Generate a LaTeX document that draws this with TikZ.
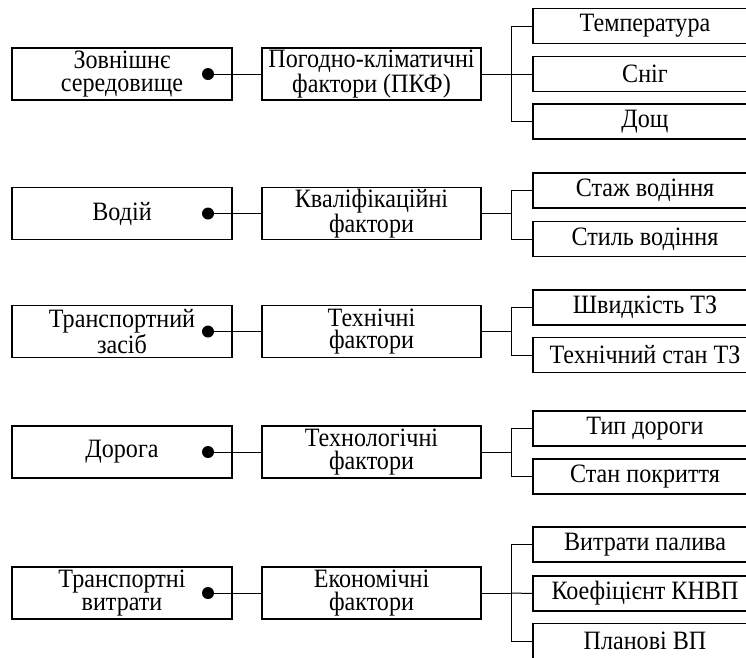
\documentclass[tikz,border=0pt]{standalone}
\usepackage{fontspec}
\setmainfont{Liberation Serif}[FakeStretch=0.91]
\begin{document}
\begin{tikzpicture}[x=1pt,y=-1pt,
  box/.style={draw,line width=1.4pt,rectangle,inner sep=0pt,align=center,
     font=\fontsize{26.5}{22.5}\selectfont},
  leftbox/.style={box,minimum width=220pt,minimum height=52pt},
  midbox/.style={box,minimum width=219pt,minimum height=52pt},
  leafbox/.style={box,minimum width=224pt,minimum height=35pt},
  conn/.style={line width=1pt},
  dotmark/.style={fill,circle,inner sep=0pt,minimum size=12pt}]
\useasboundingbox (0,0) rectangle (746,657);
\clip (0,0) rectangle (746,657);
\fill[white] (0,0) rectangle (746,657);

% Row 1
\node[leftbox] (l1) at (122,74) {Зовнішнє\\середовище};
\node[midbox] (m1) at (371.5,74) {Погодно-кліматичні\\фактори (ПКФ)};
\node[leafbox] (r11) at (645,26) {Температура};
\node[leafbox] (r12) at (645,74) {Сніг};
\node[leafbox] (r13) at (645,121.5) {Дощ};
\node[dotmark] (d1) at (208,74) {};
\coordinate (j1) at (511.5,74);
\draw[conn] (d1) -- (m1.west);
\draw[conn] (m1.east) -- (j1);
\draw[conn] (j1) |- (r11.west);
\draw[conn] (j1) -- (r12.west);
\draw[conn] (j1) |- (r13.west);

% Row 2
\node[leftbox] (l2) at (122,213.5) {Водій};
\node[midbox] (m2) at (371.5,213.5) {Кваліфікаційні\\фактори};
\node[leafbox] (r21) at (645,190.5) {Стаж водіння};
\node[leafbox] (r22) at (645,239) {Стиль водіння};
\node[dotmark] (d2) at (208,213.5) {};
\coordinate (j2) at (511.5,213.5);
\draw[conn] (d2) -- (m2.west);
\draw[conn] (m2.east) -- (j2);
\draw[conn] (j2) |- (r21.west);
\draw[conn] (j2) |- (r22.west);

% Row 3
\node[leftbox] (l3) at (122,331.5) {Транспортний\\засіб};
\node[midbox] (m3) at (371.5,331.5) {Технічні\\фактори};
\node[leafbox] (r31) at (645,307.5) {Швидкість ТЗ};
\node[leafbox] (r32) at (645,355) {Технічний стан ТЗ};
\node[dotmark] (d3) at (208,331.5) {};
\coordinate (j3) at (511.5,331.5);
\draw[conn] (d3) -- (m3.west);
\draw[conn] (m3.east) -- (j3);
\draw[conn] (j3) |- (r31.west);
\draw[conn] (j3) |- (r32.west);

% Row 4
\node[leftbox] (l4) at (122,452) {Дорога};
\node[midbox] (m4) at (371.5,452) {Технологічні\\фактори};
\node[leafbox] (r41) at (645,428.5) {Тип дороги};
\node[leafbox] (r42) at (645,476.5) {Стан покриття};
\node[dotmark] (d4) at (208,452) {};
\coordinate (j4) at (511.5,452);
\draw[conn] (d4) -- (m4.west);
\draw[conn] (m4.east) -- (j4);
\draw[conn] (j4) |- (r41.west);
\draw[conn] (j4) |- (r42.west);

% Row 5
\node[leftbox] (l5) at (122,593) {Транспортні\\витрати};
\node[midbox] (m5) at (371.5,593) {Економічні\\фактори};
\node[leafbox] (r51) at (645,544.5) {Витрати палива};
\node[leafbox] (r52) at (645,593.5) {Коефіцієнт КНВП};
\node[leafbox] (r53) at (645,641) {Планові ВП};
\node[dotmark] (d5) at (208,593) {};
\coordinate (j5) at (511.5,593);
\draw[conn] (d5) -- (m5.west);
\draw[conn] (m5.east) -- (j5);
\draw[conn] (j5) |- (r51.west);
\draw[conn] (j5) -- (r52.west);
\draw[conn] (j5) |- (r53.west);
\end{tikzpicture}
\end{document}
